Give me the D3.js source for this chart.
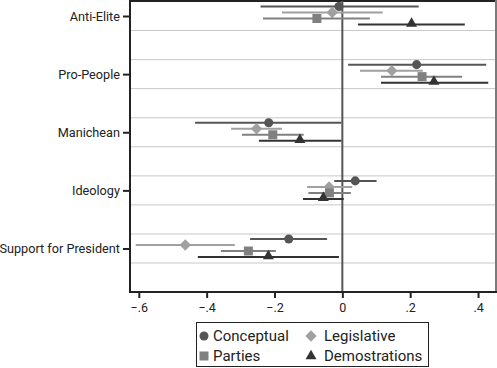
<!DOCTYPE html>
<html>
<head>
<meta charset="utf-8">
<script src="https://cdn.jsdelivr.net/npm/d3@7"></script>
<style>
  html, body { margin: 0; padding: 0; background: #fff; }
  svg { display: block; font-family: Roboto, sans-serif; }
</style>
</head>
<body>
<svg id="svg" width="497" height="368"></svg>
<script>
const categories = ['Anti-Elite', 'Pro-People', 'Manichean', 'Ideology', 'Support for President']
const seriesNames = ['Conceptual', 'Legislative', 'Parties', 'Demostrations']

// point estimates per series, in category order
const conceptual = [-0.01, 0.219, -0.217, 0.038, -0.158]
const legislative = [-0.03, 0.146, -0.253, -0.039, -0.463]
const parties = [-0.075, 0.235, -0.205, -0.038, -0.277]
const demostrations = [0.204, 0.27, -0.125, -0.056, -0.218]

// confidence intervals [low, high]
const conceptualCI = [[-0.241, 0.225], [0.017, 0.424], [-0.434, -0.003], [-0.024, 0.101], [-0.272, -0.045]]
const legislativeCI = [[-0.178, 0.119], [0.052, 0.237], [-0.328, -0.178], [-0.104, 0.029], [-0.609, -0.317]]
const partiesCI = [[-0.234, 0.081], [0.114, 0.353], [-0.296, -0.114], [-0.1, 0.025], [-0.358, -0.196]]
const demostrationsCI = [[0.046, 0.361], [0.114, 0.43], [-0.246, -0.003], [-0.116, 0.004], [-0.426, -0.01]]

const xTicks = [-0.6, -0.4, -0.2, 0, 0.2, 0.4]

const series = [
  { name: seriesNames[0], est: conceptual, ci: conceptualCI, color: '#555555', symbol: d3.symbolCircle, size: 64, off: -9.5 },
  { name: seriesNames[1], est: legislative, ci: legislativeCI, color: '#a0a0a0', symbol: d3.symbolDiamond2, size: 82, off: -3.5 },
  { name: seriesNames[2], est: parties, ci: partiesCI, color: '#808080', symbol: d3.symbolSquare, size: 81, off: 2.5 },
  { name: seriesNames[3], est: demostrations, ci: demostrationsCI, color: '#333333', symbol: d3.symbolTriangle, size: 52, off: 8.5 }
]

const plotLeft = 131
const plotRight = 495
const plotTop = 1
const plotBottom = 292

const x = d3.scaleLinear().domain([-0.623, 0.45]).range([plotLeft, plotRight])
const y = d3.scaleLinear().domain([0, categories.length - 1]).range([16, 248.5])

const svg = d3.select('#svg')

// grid lines around each category
const grid = svg.append('g')
categories.forEach((c, i) => {
  [-14.5, 14.5].forEach(d => {
    grid.append('line')
      .attr('x1', plotLeft).attr('x2', plotRight)
      .attr('y1', y(i) + d).attr('y2', y(i) + d)
      .attr('stroke', '#c8c8c8').attr('stroke-width', 1)
  })
})

// frame top & right
svg.append('line').attr('x1', plotLeft).attr('x2', 497).attr('y1', 1).attr('y2', 1)
  .attr('stroke', '#222').attr('stroke-width', 2)
svg.append('line').attr('x1', 496).attr('x2', 496).attr('y1', 0).attr('y2', plotBottom)
  .attr('stroke', '#7a7a7a').attr('stroke-width', 2)

// zero line
svg.append('line')
  .attr('x1', x(0)).attr('x2', x(0)).attr('y1', plotTop).attr('y2', plotBottom)
  .attr('stroke', '#555').attr('stroke-width', 2)

// CIs and markers
series.forEach(s => {
  const g = svg.append('g')
  g.selectAll('line').data(s.ci).join('line')
    .attr('x1', d => x(d[0])).attr('x2', d => x(d[1]))
    .attr('y1', (d, i) => y(i) + s.off).attr('y2', (d, i) => y(i) + s.off)
    .attr('stroke', s.color).attr('stroke-width', 2)
  g.selectAll('path').data(s.est).join('path')
    .attr('d', d3.symbol().type(s.symbol).size(s.size))
    .attr('transform', (d, i) => `translate(${x(d)},${y(i) + s.off + (s.symbol === d3.symbolTriangle ? -1 : 0)})`)
    .attr('fill', s.color)
})

// axes
const xAxis = d3.axisBottom(x).tickValues(xTicks).tickSize(6).tickPadding(5)
  .tickFormat(d => d === 0 ? '0' : d3.format('.1f')(d).replace('0.', '.'))
const gx = svg.append('g').attr('transform', `translate(0,${plotBottom})`).call(xAxis)
gx.select('.domain').attr('stroke', '#222').attr('stroke-width', 2)
  .attr('d', `M${plotLeft - 1},0H${plotRight + 2}`)
gx.selectAll('.tick line').attr('stroke', '#222').attr('stroke-width', 2)
gx.selectAll('text').attr('font-size', 12.5).attr('fill', '#222').attr('font-family', 'Roboto, sans-serif')

const yAxis = d3.axisLeft(y).tickValues(d3.range(categories.length)).tickSize(7).tickPadding(3)
  .tickFormat(i => categories[i])
const gy = svg.append('g').attr('transform', `translate(${plotLeft - 1},0)`).call(yAxis)
gy.select('.domain').attr('stroke', '#222').attr('stroke-width', 2)
  .attr('d', `M0,0V${plotBottom + 1}`)
gy.selectAll('.tick line').attr('stroke', '#222').attr('stroke-width', 2)
gy.selectAll('text').attr('font-size', 12.7).attr('fill', '#222').attr('font-family', 'Roboto, sans-serif')

// legend
const legend = svg.append('g')
legend.append('rect')
  .attr('x', 196.5).attr('y', 322.5).attr('width', 232).attr('height', 44)
  .attr('fill', '#fff').attr('stroke', '#222').attr('stroke-width', 1)
const legendPos = [[204, 336], [311, 336], [204, 356], [311, 356]]
series.forEach((s, i) => {
  const [lx, ly] = legendPos[i]
  legend.append('path')
    .attr('d', d3.symbol().type(s.symbol).size(s.size))
    .attr('transform', `translate(${lx},${ly})`)
    .attr('fill', s.color)
  legend.append('text')
    .attr('x', lx + (i % 2 === 0 ? 9 : 13)).attr('y', ly)
    .attr('dy', '0.35em')
    .attr('font-size', 15).attr('fill', '#222')
    .text(s.name)
})
</script>
</body>
</html>
